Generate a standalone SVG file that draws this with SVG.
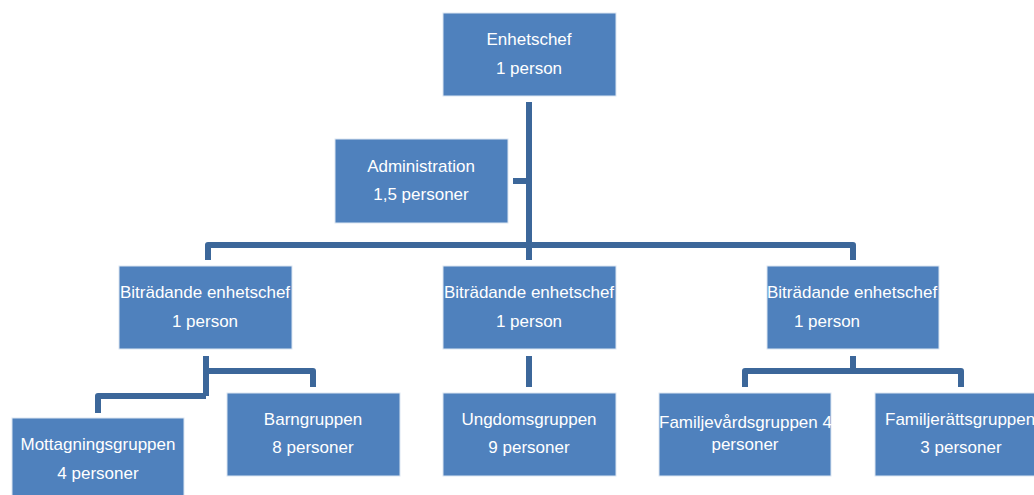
<svg xmlns="http://www.w3.org/2000/svg" width="1034" height="495" viewBox="0 0 1034 495">
<style>
.box{fill:#4F81BD;stroke:#DCE6F2;stroke-width:1}
.t{font-family:"Liberation Sans",Arial,sans-serif;font-size:17px;fill:#FFFFFF;text-anchor:middle}
.s{text-anchor:start}
.c{fill:none;stroke:#3C679A;stroke-width:6;stroke-linejoin:round}
</style>
<rect width="1034" height="495" fill="#FFFFFF"/>
<g id="connectors">
<path class="c" d="M529,102 V260"/>
<path class="c" d="M513,181 H529"/>
<path class="c" d="M208,260 V245 H853 V260"/>
<path class="c" d="M206,356 V396 M206,371 H313 V387 M206,396 H98 V413"/>
<path class="c" d="M529,356 V387"/>
<path class="c" d="M853,356 V371 M745,387 V371 H961 V387"/>
</g>
<g id="enhetschef">
<rect class="box" x="443" y="13" width="173" height="83"/>
<text class="t" x="529" y="45">Enhetschef</text>
<text class="t" x="529" y="74">1 person</text>
</g>
<g id="administration">
<rect class="box" x="335" y="139" width="173" height="84"/>
<text class="t" x="421" y="172">Administration</text>
<text class="t" x="421" y="200">1,5 personer</text>
</g>
<g id="bitradande1">
<rect class="box" x="119" y="266" width="173" height="83"/>
<text class="t" x="205" y="298">Biträdande enhetschef</text>
<text class="t" x="205" y="327">1 person</text>
</g>
<g id="bitradande2">
<rect class="box" x="443" y="266" width="173" height="83"/>
<text class="t" x="529" y="298">Biträdande enhetschef</text>
<text class="t" x="529" y="327">1 person</text>
</g>
<g id="bitradande3">
<rect class="box" x="767" y="266" width="172" height="83"/>
<text class="t s" x="767" y="298">Biträdande enhetschef</text>
<text class="t" x="827" y="327">1 person</text>
</g>
<g id="mottagningsgruppen">
<rect class="box" x="12" y="418" width="172" height="90"/>
<text class="t" x="98" y="450">Mottagningsgruppen</text>
<text class="t" x="98" y="479">4 personer</text>
</g>
<g id="barngruppen">
<rect class="box" x="227" y="393" width="173" height="83"/>
<text class="t" x="313" y="425">Barngruppen</text>
<text class="t" x="313" y="453">8 personer</text>
</g>
<g id="ungdomsgruppen">
<rect class="box" x="443" y="393" width="173" height="83"/>
<text class="t" x="529" y="425">Ungdomsgruppen</text>
<text class="t" x="529" y="453">9 personer</text>
</g>
<g id="familjevardsgruppen">
<rect class="box" x="659" y="393" width="172" height="83"/>
<text class="t s" x="659" y="428">Familjevårdsgruppen 4</text>
<text class="t" x="745" y="450">personer</text>
</g>
<g id="familjerattsgruppen">
<rect class="box" x="875" y="393" width="173" height="83"/>
<text class="t s" x="885" y="425">Familjerättsgruppen</text>
<text class="t" x="961" y="453">3 personer</text>
</g>
</svg>
